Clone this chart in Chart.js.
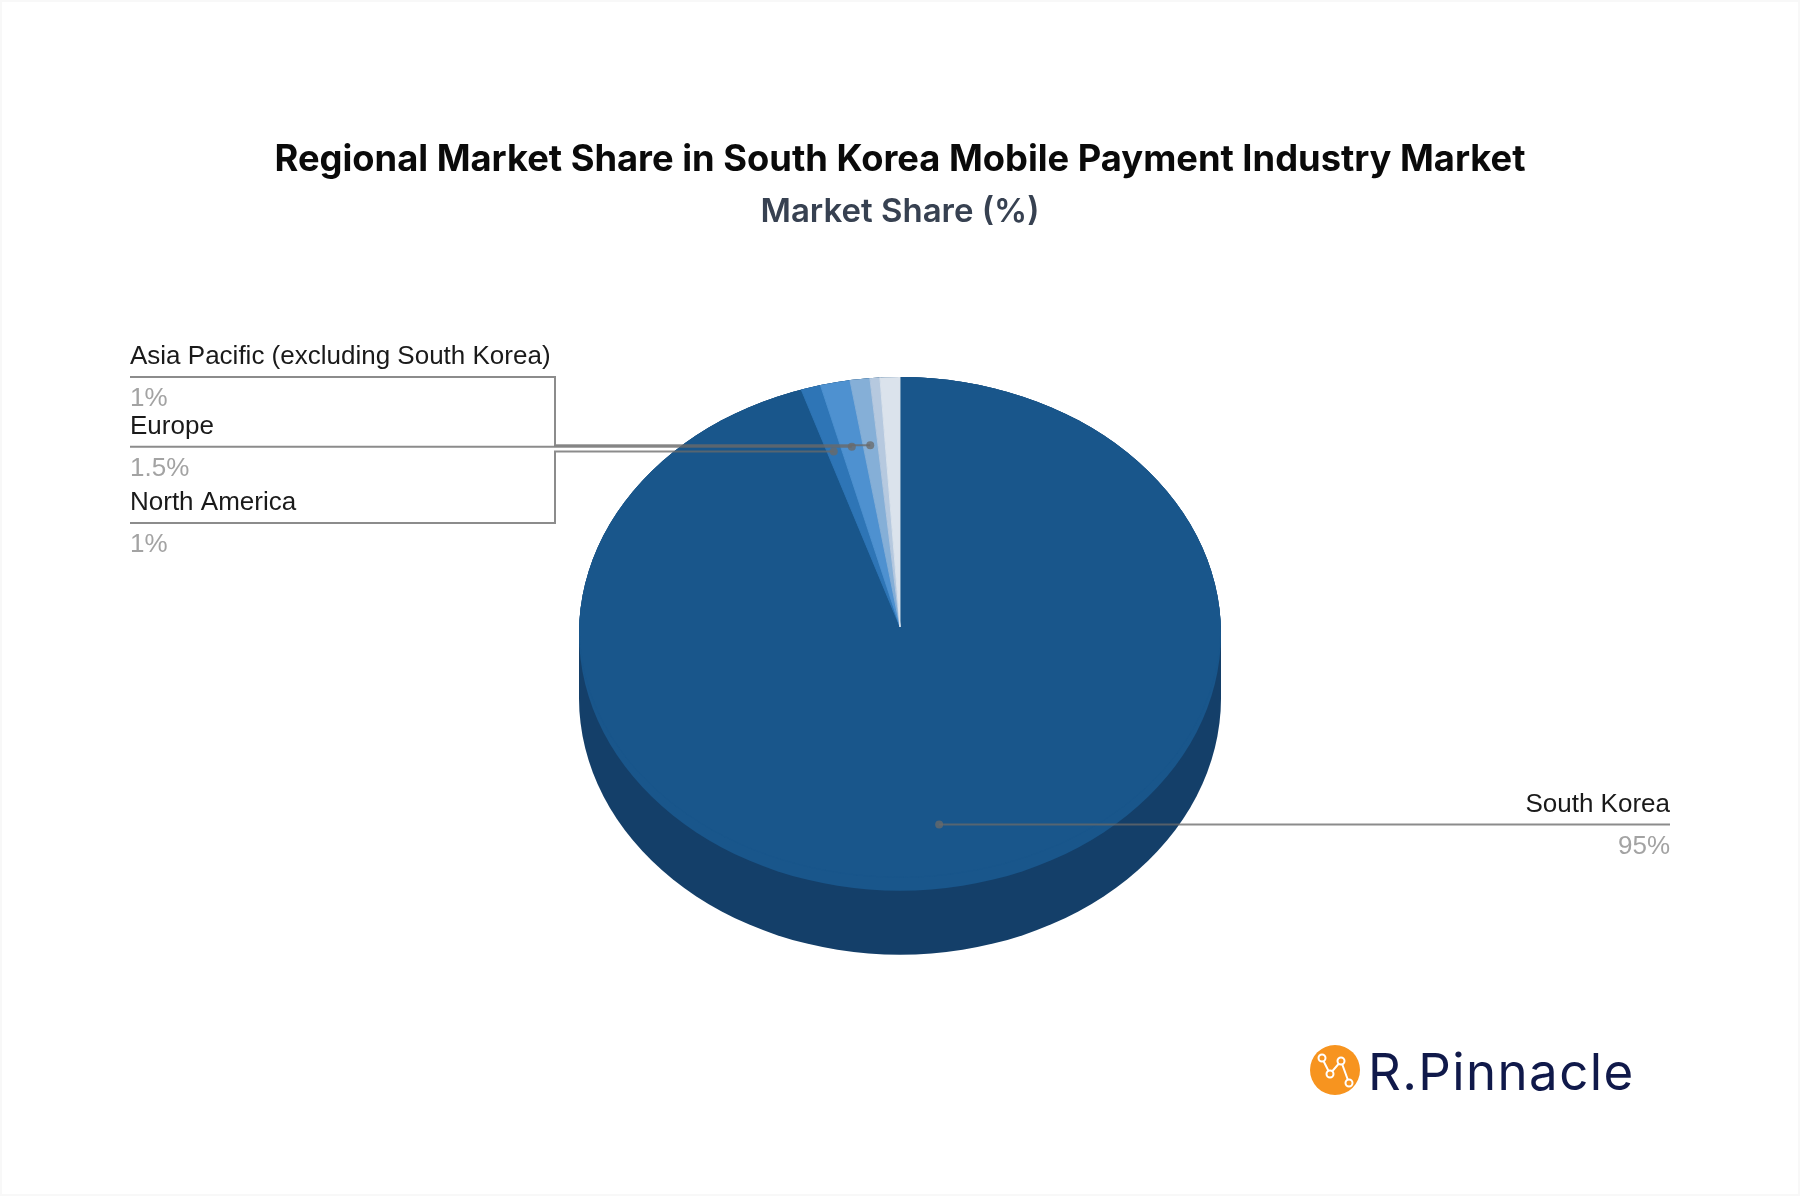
<!DOCTYPE html>
<html>
<head>
<meta charset="utf-8">
<title>Regional Market Share in South Korea Mobile Payment Industry Market</title>
<script src="https://cdn.jsdelivr.net/npm/chart.js@4/dist/chart.umd.min.js"></script>
<style>
  html, body { margin: 0; padding: 0; background: #fff; }
  canvas { display: block; outline: 2px solid #F8F8F8; outline-offset: -2px; }
</style>
</head>
<body>
<canvas id="pie" width="1800" height="1196"></canvas>
<script>
// --- DATA, clockwise from 12 o'clock ---
const regions = ['South Korea', 'North America', 'Europe', 'Asia Pacific (excluding South Korea)', 'Latin America', 'Middle East & Africa'];
const shares = [95, 1, 1.5, 1, 0.5, 1];
const shareLabels = ['95%', '1%', '1.5%', '1%', '', ''];
const sliceColors = ['#19568B', '#2E75B6', '#4E91D0', '#85AFD7', '#B6C9DF', '#DBE3EC'];

const SQUASH = 0.8;      // outline of the tilted pie
const APEX_SQUASH = 0.78; // slices meet a bit behind the middle of the ellipse (perspective)
const APEX_LIFT = 7;
const DEPTH = 64;        // height of the side wall
const WALL_COLOR = '#143F69';
const LEADER_COLOR = 'rgba(105, 105, 105, 0.77)';
const ANCHOR_RADIUS = 0.74;

// where the label of each slice sits (index into regions)
const callouts = [
    { index: 3, side: 'left', lineY: 377, elbowX: 555 },
    { index: 2, side: 'left', lineY: null, nudgeY: -1 },
    { index: 1, side: 'left', lineY: 523, elbowX: 555 },
    { index: 0, side: 'right', lineY: null, nudgeX: 2, nudgeY: 3 }
];

// anchor of a slice on the squashed pie
function anchorOf(arc, c) {
    const mid = (arc.startAngle + arc.endAngle) / 2;
    const r = arc.outerRadius * ANCHOR_RADIUS;
    return {
        x: arc.x + Math.cos(mid) * r + (c.nudgeX || 0),
        y: arc.y + Math.sin(mid) * r * SQUASH + (c.nudgeY || 0)
    };
}

// side wall + squash of the slices
const tiltPlugin = {
    id: 'tilt',
    beforeDatasetsDraw(chart) {
        const ctx = chart.ctx;
        const arc = chart.getDatasetMeta(0).data[0];
        const rx = arc.outerRadius;
        const ry = rx * SQUASH;
        ctx.save();
        ctx.fillStyle = WALL_COLOR;
        ctx.beginPath();
        ctx.ellipse(arc.x, arc.y, rx, ry, 0, Math.PI, 0);
        ctx.lineTo(arc.x + rx, arc.y + DEPTH);
        ctx.ellipse(arc.x, arc.y + DEPTH, rx, ry, 0, 0, Math.PI);
        ctx.closePath();
        ctx.fill();

        // top face in the colour of the big slice, the rest lies on it
        ctx.fillStyle = sliceColors[0];
        ctx.beginPath();
        ctx.ellipse(arc.x, arc.y, rx, ry, 0, 0, Math.PI * 2);
        ctx.fill();
        ctx.restore();

        ctx.save();
        ctx.beginPath();
        ctx.ellipse(arc.x, arc.y, rx, ry, 0, 0, Math.PI * 2);
        ctx.clip();
        ctx.translate(arc.x, arc.y - APEX_LIFT);
        ctx.scale(1, APEX_SQUASH);
        ctx.translate(-arc.x, -arc.y);
    },
    afterDatasetsDraw(chart) {
        chart.ctx.restore();
    }
};

// leader lines and labels
const calloutPlugin = {
    id: 'callouts',
    afterDraw(chart) {
        const ctx = chart.ctx;
        const arcs = chart.getDatasetMeta(0).data;
        const leftX = 130;
        const rightX = 1670;
        ctx.save();
        callouts.forEach(c => {
            const p = anchorOf(arcs[c.index], c);
            const lineY = c.lineY === null ? p.y : c.lineY;
            const edgeX = c.side === 'left' ? leftX : rightX;

            ctx.strokeStyle = LEADER_COLOR;
            ctx.lineWidth = 2;
            ctx.beginPath();
            ctx.moveTo(edgeX, lineY);
            if (c.elbowX) {
                ctx.lineTo(c.elbowX, lineY);
                ctx.lineTo(c.elbowX, p.y);
            }
            ctx.lineTo(p.x, p.y);
            ctx.stroke();

            ctx.fillStyle = LEADER_COLOR;
            ctx.beginPath();
            ctx.arc(p.x, p.y, 4, 0, Math.PI * 2);
            ctx.fill();

            ctx.textAlign = c.side;
            ctx.textBaseline = 'alphabetic';
            ctx.font = '26px "Liberation Sans"';
            ctx.fillStyle = '#1A1A1A';
            ctx.fillText(regions[c.index], edgeX, lineY - 13);
            ctx.fillStyle = '#A3A3A3';
            ctx.fillText(shareLabels[c.index], edgeX, lineY + 29);
        });
        ctx.restore();
    }
};

// R.Pinnacle mark, bottom right
const logoPlugin = {
    id: 'logo',
    afterDraw(chart) {
        const ctx = chart.ctx;
        const nodes = [[1322, 1058], [1330, 1074], [1341, 1061], [1349, 1083]];
        ctx.save();
        ctx.fillStyle = '#F7941F';
        ctx.beginPath();
        ctx.arc(1335, 1070, 25, 0, Math.PI * 2);
        ctx.fill();
        ctx.strokeStyle = '#FFFFFF';
        ctx.lineWidth = 2;
        ctx.beginPath();
        nodes.forEach((n, i) => i ? ctx.lineTo(n[0], n[1]) : ctx.moveTo(n[0], n[1]));
        ctx.stroke();
        nodes.forEach(n => {
            ctx.beginPath();
            ctx.arc(n[0], n[1], 3.5, 0, Math.PI * 2);
            ctx.fillStyle = '#F7941F';
            ctx.fill();
            ctx.stroke();
        });
        ctx.fillStyle = '#10194A';
        ctx.font = '400 51px Inter';
        ctx.letterSpacing = '1.4px';
        ctx.textAlign = 'left';
        ctx.textBaseline = 'alphabetic';
        ctx.fillText('R.Pinnacle', 1368, 1090);
        ctx.restore();
    }
};

new Chart(document.getElementById('pie'), {
    type: 'pie',
    data: {
        labels: regions,
        datasets: [{
            data: shares,
            backgroundColor: sliceColors,
            borderColor: sliceColors,
            borderWidth: 1,
            radius: 321
        }]
    },
    options: {
        responsive: false,
        devicePixelRatio: 1,
        animation: false,
        layout: { padding: { left: 0, right: 0, top: 0, bottom: 241 } },
        plugins: {
            legend: { display: false },
            tooltip: { enabled: false },
            title: {
                display: true,
                text: 'Regional Market Share in South Korea Mobile Payment Industry Market',
                color: '#0A0A0A',
                font: { family: 'Inter', size: 36.3, weight: '700', lineHeight: 1.2 },
                padding: { top: 138, bottom: 11 }
            },
            subtitle: {
                display: true,
                text: 'Market Share (%)',
                color: '#374151',
                font: { family: 'Inter', size: 33, weight: '600', lineHeight: 1.2 },
                padding: { top: 0, bottom: 80.6 }
            }
        }
    },
    plugins: [tiltPlugin, calloutPlugin, logoPlugin]
});
</script>
</body>
</html>
